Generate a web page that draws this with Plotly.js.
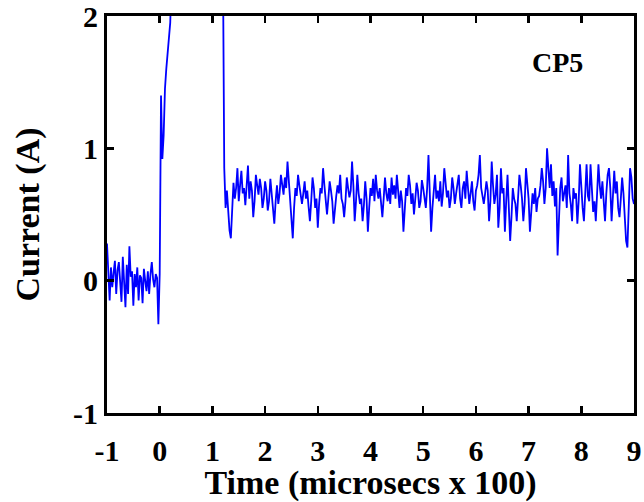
<!DOCTYPE html>
<html>
<head>
<meta charset="utf-8">
<script src="https://cdn.plot.ly/plotly-3.0.1.min.js"></script>
<style>html,body{margin:0;padding:0;background:#fff;}#chart{width:644px;height:502px;}</style>
</head>
<body>
<div id="chart"></div>
<script>
// Sampling grid of the recorded signal (time in microsecs x 100)
const timeStart = -1.0;
const timeStep = 0.025;

// Pre-discharge baseline, t = -1.000 ... -0.025
const baselineCurrent = [0.28, 0.05, -0.15, 0.10, -0.05, 0.06, 0.15, -0.10, 0.08, 0.14,
  -0.06, -0.16, 0.18, 0.02, -0.20, 0.12, -0.10, 0.26, 0.03, 0.07,
  -0.19, 0.05, -0.05, 0.10, -0.15, 0.04, 0.02, -0.17, 0.09, 0.00,
  -0.08, 0.07, -0.10, 0.05, 0.14, 0.01, -0.05, 0.05, 0.02, -0.33];

// Main pulse, t = 0.000 ... 1.225 (saturates above the plotted range)
const pulseCurrent = [0.05, 1.40, 0.92, 1.10, 1.45, 1.60, 1.72, 1.85, 1.95, 2.30,
  2.5, 2.8, 3.1, 3.3, 3.4, 3.5, 3.5, 3.4, 3.4, 3.3,
  3.3, 3.2, 3.2, 3.1, 3.1, 3.0, 3.0, 3.0, 2.9, 2.9,
  2.9, 2.8, 2.8, 2.8, 2.7, 2.7, 2.7, 2.7, 2.6, 2.6,
  2.6, 2.6, 2.5, 2.5, 2.5, 2.5, 2.5, 2.4, 2.40, 0.85];

// Post-pulse plateau, t = 1.250 ... 9.000
const plateauCurrent = [
  0.55, 0.68, 0.50, 0.38, 0.32, 0.55, 0.74, 0.62, 0.70, 0.85, 0.60, 0.72, 0.83, 0.66, 0.70, 0.57, 0.78, 0.87, 0.62, 0.75,
  0.68, 0.48, 0.60, 0.80, 0.72, 0.65, 0.77, 0.70, 0.55, 0.62, 0.75, 0.68, 0.53, 0.60, 0.77, 0.66, 0.57, 0.43, 0.60, 0.72,
  0.58, 0.66, 0.80, 0.72, 0.65, 0.78, 0.70, 0.90, 0.75, 0.60, 0.48, 0.32, 0.55, 0.70, 0.64, 0.80, 0.72, 0.63, 0.58, 0.66,
  0.75, 0.62, 0.68, 0.56, 0.45, 0.60, 0.78, 0.70, 0.55, 0.62, 0.40, 0.58, 0.70, 0.66, 0.85, 0.72, 0.63, 0.50, 0.62, 0.75,
  0.68, 0.60, 0.43, 0.55, 0.64, 0.72, 0.66, 0.80, 0.62, 0.58, 0.48, 0.60, 0.78, 0.70, 0.63, 0.68, 0.90, 0.72, 0.45, 0.60,
  0.80, 0.66, 0.58, 0.62, 0.45, 0.57, 0.75, 0.62, 0.37, 0.55, 0.70, 0.64, 0.77, 0.60, 0.80, 0.68, 0.62, 0.70, 0.56, 0.48,
  0.62, 0.78, 0.66, 0.60, 0.70, 0.58, 0.78, 0.65, 0.72, 0.62, 0.80, 0.70, 0.55, 0.68, 0.60, 0.37, 0.50, 0.70, 0.64, 0.80,
  0.72, 0.58, 0.66, 0.50, 0.62, 0.74, 0.68, 0.55, 0.60, 0.76, 0.70, 0.62, 0.55, 0.70, 0.95, 0.66, 0.37, 0.55, 0.70, 0.80,
  0.62, 0.68, 0.60, 0.75, 0.56, 0.66, 0.85, 0.70, 0.63, 0.68, 0.55, 0.62, 0.78, 0.70, 0.58, 0.66, 0.72, 0.80, 0.62, 0.55,
  0.70, 0.75, 0.62, 0.83, 0.70, 0.58, 0.66, 0.75, 0.60, 0.53, 0.68, 0.72, 0.80, 0.95, 0.70, 0.62, 0.58, 0.66, 0.75, 0.68,
  0.45, 0.60, 0.90, 0.72, 0.58, 0.65, 0.80, 0.40, 0.55, 0.85, 0.66, 0.70, 0.37, 0.60, 0.80, 0.55, 0.30, 0.48, 0.70, 0.62,
  0.58, 0.45, 0.66, 0.80, 0.72, 0.62, 0.45, 0.58, 0.85, 0.70, 0.62, 0.37, 0.55, 0.66, 0.58, 0.70, 0.52, 0.62, 0.64, 0.72,
  0.85, 0.75, 0.58, 0.70, 1.00, 0.82, 0.70, 0.88, 0.64, 0.75, 0.56, 0.70, 0.19, 0.45, 0.70, 0.78, 0.60, 0.66, 0.72, 0.55,
  0.95, 0.66, 0.58, 0.45, 0.70, 0.62, 0.66, 0.43, 0.60, 0.88, 0.70, 0.55, 0.45, 0.62, 0.88, 0.64, 0.60, 0.88, 0.70, 0.52,
  0.60, 0.45, 0.66, 0.88, 0.72, 0.62, 0.75, 0.58, 0.45, 0.66, 0.80, 0.85, 0.70, 0.45, 0.60, 0.83, 0.66, 0.75, 0.55, 0.48,
  0.62, 0.78, 0.66, 0.50, 0.30, 0.25, 0.60, 0.85, 0.78, 0.62, 0.58];

const xTickVals = [-1, 0, 1, 2, 3, 4, 5, 6, 7, 8, 9];
const yTickVals = [-1, 0, 1, 2];
const xLabel = 'Time (microsecs x 100)';
const yLabel = 'Current (A)';
const probeLabel = 'CP5';

const current = baselineCurrent.concat(pulseCurrent, plateauCurrent);
const time = current.map((_, i) => +(timeStart + i * timeStep).toFixed(3));

const serif = 'Liberation Serif, Times New Roman, serif';

const trace = {
  x: time, y: current, type: 'scatter', mode: 'lines',
  line: {color: '#0000ff', width: 1.8},
  hoverinfo: 'skip', showlegend: false
};

const axisCommon = {
  showline: true, linecolor: '#000', linewidth: 3, mirror: 'ticks',
  ticks: 'inside', ticklen: 7, tickwidth: 2.5, tickcolor: '#000',
  showgrid: false, zeroline: false, ticklabeloverflow: 'allow',
  tickfont: {family: serif, size: 30, color: '#000', weight: 'bold'}
};

const layout = {
  width: 644, height: 502,
  margin: {l: 107, r: 10, t: 16, b: 89},
  paper_bgcolor: '#fff', plot_bgcolor: '#fff',
  xaxis: Object.assign({}, axisCommon, {
    range: [-1, 9], tickvals: xTickVals, ticktext: xTickVals.map(String),
    ticklabelstandoff: 9,
    title: {text: xLabel, font: {family: serif, size: 34, color: '#000', weight: 'bold'}, standoff: 3}
  }),
  yaxis: Object.assign({}, axisCommon, {
    range: [-1, 2], tickvals: yTickVals, ticktext: yTickVals.map(String),
    title: {text: yLabel, font: {family: serif, size: 34, color: '#000', weight: 'bold'}, standoff: 24}
  }),
  annotations: [{
    text: probeLabel, xref: 'paper', yref: 'paper', x: 0.854, y: 0.882,
    xanchor: 'center', yanchor: 'middle', showarrow: false,
    font: {family: serif, size: 28, color: '#000', weight: 'bold'}
  }]
};

Plotly.newPlot('chart', [trace], layout, {displayModeBar: false, staticPlot: true});
</script>
</body>
</html>
